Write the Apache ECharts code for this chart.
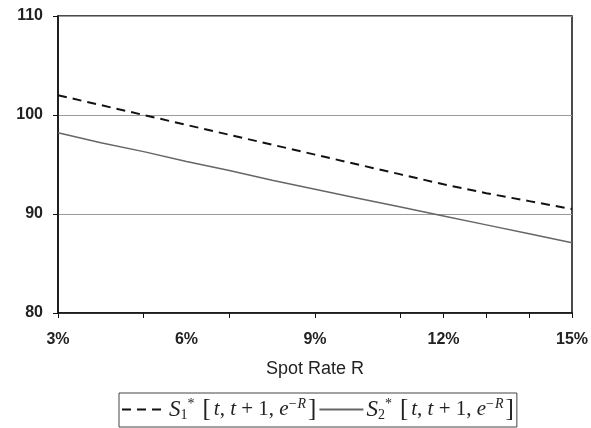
<!DOCTYPE html>
<html>
<head>
<meta charset="utf-8">
<script src="https://cdn.jsdelivr.net/npm/echarts@6/dist/echarts.min.js"></script>
<style>html,body{margin:0;padding:0;background:#fff}#c{width:591px;height:428px}</style>
</head>
<body>
<div id="c"></div>
<script>
const rates = [3, 4, 5, 6, 7, 8, 9, 10, 11, 12, 13, 14, 15];
const s1Values = [102.0, 101.0, 100.0, 99.0, 98.0, 97.0, 96.0, 95.0, 94.0, 93.0, 92.1, 91.3, 90.5];
const s2Values = [98.2, 97.2, 96.3, 95.3, 94.4, 93.4, 92.5, 91.6, 90.7, 89.8, 88.9, 88.0, 87.1];
const xTickValues = [3, 5, 7, 9, 11, 12, 13, 14, 15];
const xLabelValues = [3, 6, 9, 12, 15];

const chart = echarts.init(document.getElementById('c'));
const F = 'Liberation Serif';
const rich = {
  s: {fontFamily: F, fontStyle: 'italic', fontSize: 23, color: '#222'},
  sub: {fontFamily: F, fontSize: 14, color: '#222', verticalAlign: 'bottom', padding: [8, 0, 0, 0]},
  sup: {fontFamily: F, fontSize: 14, color: '#222', verticalAlign: 'top', padding: [0, 6, 8, 0]},
  supm: {fontFamily: F, fontSize: 14, color: '#222', verticalAlign: 'top', padding: [0, 1, 8, 0]},
  supi: {fontFamily: F, fontStyle: 'italic', fontSize: 14, color: '#222', verticalAlign: 'top', padding: [0, 0, 8, 0]},
  b: {fontFamily: F, fontSize: 25, color: '#222', padding: [0, 3, 0, 2]},
  i: {fontFamily: F, fontStyle: 'italic', fontSize: 21, color: '#222'},
  n: {fontFamily: F, fontSize: 21, color: '#222'}
};
chart.setOption({
  animation: false,
  backgroundColor: '#fff',
  grid: {left: 58, right: 17, top: 16, bottom: 115, show: true, borderColor: '#111', borderWidth: 1.5},
  xAxis: {
    type: 'value', min: 3, max: 15, interval: 3,
    name: 'Spot Rate R', nameLocation: 'middle', nameGap: 47,
    nameTextStyle: {fontFamily: 'Liberation Sans', fontSize: 18, color: '#222'},
    axisLine: {lineStyle: {color: '#111', width: 1.5}},
    axisTick: {show: true, length: 5, lineStyle: {color: '#111'}, customValues: xTickValues},
    axisLabel: {customValues: xLabelValues, formatter: v => v + '%', margin: 19,
      fontFamily: 'Liberation Sans', fontSize: 16, fontWeight: 'bold', color: '#222'},
    splitLine: {show: false}
  },
  yAxis: {
    type: 'value', min: 80, max: 110, interval: 10,
    axisLine: {show: true, lineStyle: {color: '#111', width: 1.5}},
    axisTick: {show: true, length: 5, lineStyle: {color: '#111'}},
    axisLabel: {margin: 15, fontFamily: 'Liberation Sans', fontSize: 16, fontWeight: 'bold', color: '#222'},
    splitLine: {show: true, lineStyle: {color: '#9a9a9a', width: 1.2}}
  },
  legend: {
    left: 119, top: 393,
    orient: 'horizontal',
    borderColor: '#444', borderWidth: 1, padding: [4, 3, 5, 2],
    itemWidth: 44, itemHeight: 12, itemGap: 2,
    itemStyle: {opacity: 0},
    data: ['S1', 'S2'],
    formatter: function (name) {
      const k = name === 'S1' ? '1' : '2';
      return '{s|S}{sub|' + k + '}{sup|*}{b|[}{i|t}{n|, }{i|t}{n| + 1, }{i|e}{supm|−}{supi|R}{b|]}';
    },
    textStyle: {rich: rich, padding: [0, 0, 0, -2]}
  },
  series: [
    {name: 'S1', type: 'line', data: rates.map((r, i) => [r, s1Values[i]]), symbol: 'none',
      lineStyle: {color: '#111', width: 2, type: [9, 6]}, itemStyle: {color: '#111'}},
    {name: 'S2', type: 'line', data: rates.map((r, i) => [r, s2Values[i]]), symbol: 'none',
      lineStyle: {color: '#666', width: 1.5}, itemStyle: {color: '#666'}}
  ]
});
</script>
</body>
</html>
